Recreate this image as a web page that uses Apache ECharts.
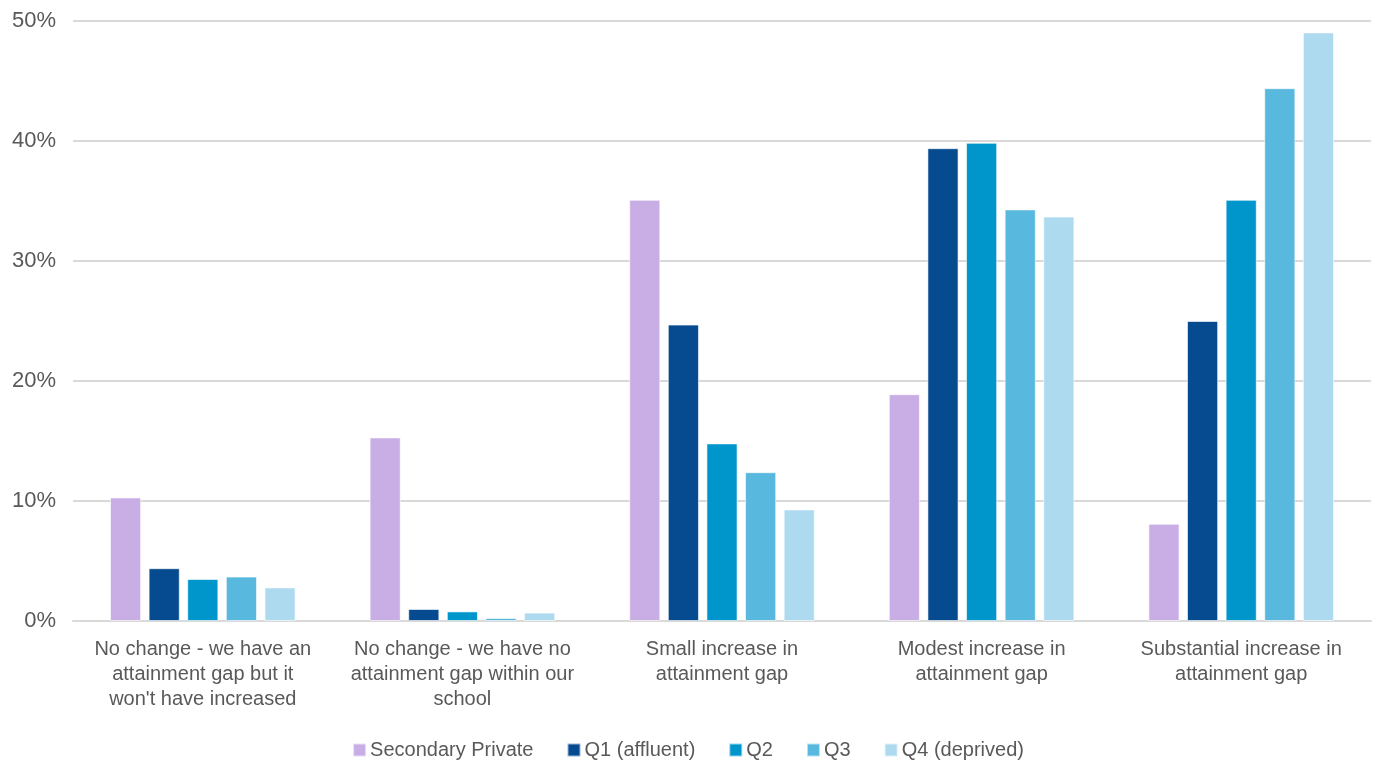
<!DOCTYPE html>
<html><head><meta charset="utf-8">
<script src="https://cdn.jsdelivr.net/npm/echarts@6/dist/echarts.min.js"></script>
<style>html,body{margin:0;padding:0;background:#fff}#c{width:1376px;height:760px}</style>
</head><body><div id="c"></div>
<script>
const categories = [
  "No change - we have an\nattainment gap but it\nwon't have increased",
  "No change - we have no\nattainment gap within our\nschool",
  "Small increase in\nattainment gap",
  "Modest increase in\nattainment gap",
  "Substantial increase in\nattainment gap"
];
const seriesNames = ["Secondary Private", "Q1 (affluent)", "Q2", "Q3", "Q4 (deprived)"];
const secondaryPrivate = [10.3, 15.3, 35.1, 18.9, 8.1];
const q1 = [4.4, 1.0, 24.7, 39.4, 25.0];
const q2 = [3.5, 0.8, 14.8, 39.85, 35.1];
const q3 = [3.7, 0.25, 12.4, 34.3, 44.4];
const q4 = [2.8, 0.7, 9.3, 33.7, 49.05];
const colors = ["#C9AEE6", "#064A8F", "#0096CC", "#58B8DE", "#ADDAEF"];
const yTicks = [0, 10, 20, 30, 40, 50];

const font = "'Liberation Sans', Arial, sans-serif";
const allData = [secondaryPrivate, q1, q2, q3, q4];
const chart = echarts.init(document.getElementById('c'));
chart.setOption({
  animation: false,
  color: colors,
  grid: { left: 73, right: 5, top: 21, bottom: 139, containLabel: false },
  legend: {
    top: 735, left: 'center',
    itemWidth: 13, itemHeight: 13, itemGap: 33,
    icon: 'rect',
    textStyle: { color: '#595959', fontSize: 20, fontFamily: font, padding: [0,0,0,-1] },
    data: seriesNames
  },
  xAxis: {
    type: 'category', data: categories,
    axisLine: { lineStyle: { color: '#d9d9d9', width: 2 } },
    axisTick: { show: false },
    axisLabel: { color: '#595959', fontSize: 20, fontFamily: font, lineHeight: 25, margin: 16, interval: 0 }
  },
  yAxis: {
    type: 'value', min: yTicks[0], max: yTicks[yTicks.length - 1], interval: 10,
    axisLabel: { color: '#595959', fontSize: 22, fontFamily: font, margin: 17, formatter: v => v + '%' },
    splitLine: { lineStyle: { color: '#d9d9d9', width: 2 } },
    axisLine: { show: false }, axisTick: { show: false }
  },
  series: seriesNames.map((n, i) => ({
    name: n, type: 'bar', data: allData[i],
    barGap: '24%', barCategoryGap: '28.5%',
    itemStyle: { borderColor: 'rgba(255,255,255,0.6)', borderWidth: 1 }
  }))
});
</script></body></html>
